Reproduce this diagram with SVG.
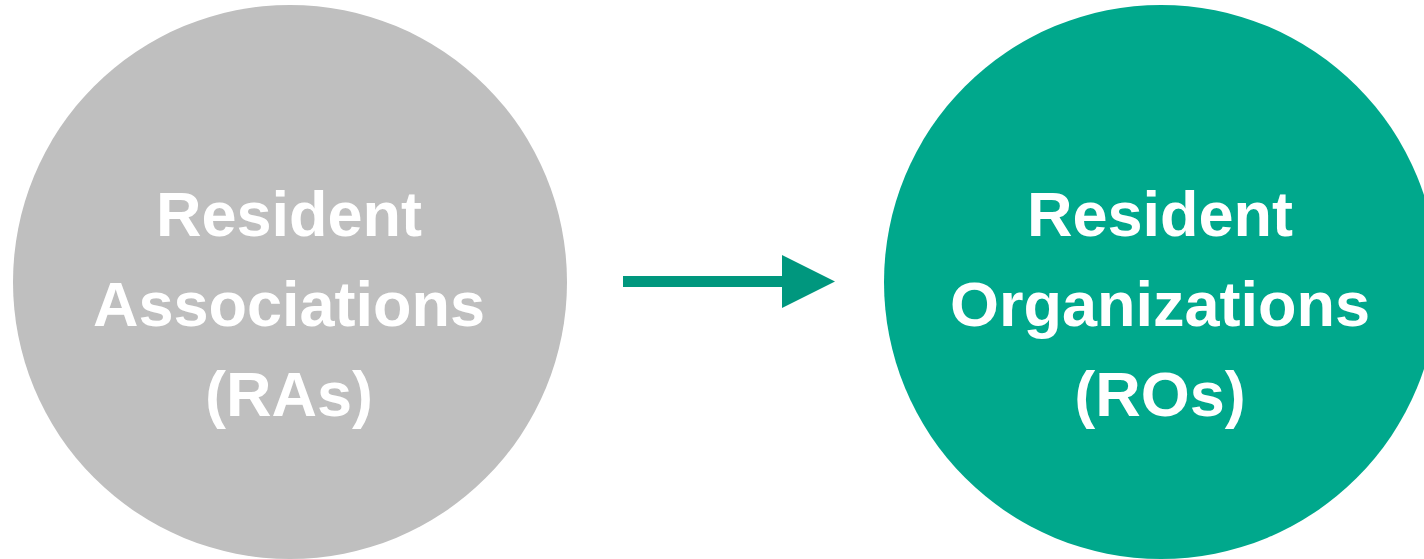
<svg xmlns="http://www.w3.org/2000/svg" width="1424" height="559" viewBox="0 0 1424 559">
<style>
.lbl{font-family:"Liberation Sans",Arial,sans-serif;font-weight:bold;font-size:63px;fill:#FFFFFF;text-anchor:middle}
</style>
<rect width="1424" height="559" fill="#FFFFFF"/>
<g id="node-ras">
<circle cx="290" cy="282" r="277" fill="#BFBFBF"/>
<text class="lbl" x="289" y="236">Resident</text>
<text class="lbl" x="289" y="326">Associations</text>
<text class="lbl" x="289" y="416">(RAs)</text>
</g>
<g id="node-ros">
<circle cx="1161" cy="282" r="277" fill="#00A88C"/>
<text class="lbl" x="1160" y="236">Resident</text>
<text class="lbl" x="1160" y="326">Organizations</text>
<text class="lbl" x="1160" y="416">(ROs)</text>
</g>
<g id="connectors">
<line x1="623" y1="281.5" x2="784" y2="281.5" stroke="#00977E" stroke-width="11"/>
<polygon points="782,255 835,281.5 782,308" fill="#00977E"/>
</g>
</svg>
